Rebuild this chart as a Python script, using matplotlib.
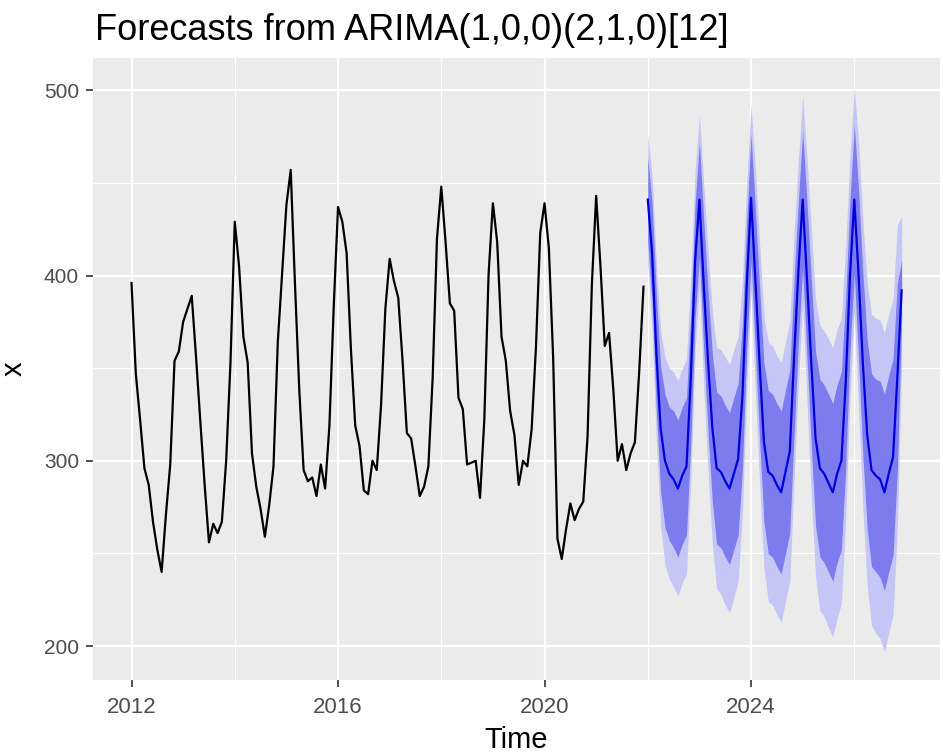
import numpy as np
import matplotlib.pyplot as plt

# monthly series 2012-01 .. 2021-12
hist = [
    396, 347, 322, 296, 287, 267, 252, 240, 271, 298, 354, 359,
    375, 382, 389, 356, 321, 287, 256, 266, 261, 267, 300, 353,
    429, 405, 367, 353, 304, 286, 274, 259, 276, 297, 364, 401,
    438, 457, 395, 338, 295, 289, 291, 281, 298, 285, 319, 383,
    437, 429, 412, 360, 319, 308, 284, 282, 300, 295, 330, 382,
    409, 397, 388, 354, 315, 312, 297, 281, 286, 297, 345, 420,
    448, 418, 385, 381, 334, 328, 298, 299, 300, 280, 322, 401,
    439, 418, 367, 354, 327, 314, 287, 300, 297, 317, 361, 423,
    439, 415, 356, 258, 247, 263, 277, 268, 274, 278, 313, 395,
    443, 405, 362, 369, 338, 300, 309, 295, 304, 310, 348, 394,
]

# point forecasts 2022-01 .. 2026-12
fc_mean = [
    441, 412, 358, 317, 300, 293, 290, 285, 292, 297, 345, 408,
    441, 395, 354, 318, 296, 294, 289, 285, 293, 301, 335, 395,
    442, 398, 352, 310, 294, 292, 287, 283, 294, 305, 356, 402,
    441, 398, 353, 312, 296, 293, 288, 283, 293, 300, 342, 400,
    441, 400, 352, 314, 295, 292, 290, 283, 293, 302, 345, 392,
]

# half widths of the 80% and 95% intervals
w80 = [
    23, 27, 31, 34, 36, 36, 37, 37, 37, 37, 35, 31,
    31, 35, 38, 40, 41, 41, 41, 41, 41, 41, 39, 35,
    34, 38, 41, 43, 44, 44, 44, 44, 44, 44, 42, 38,
    37, 42, 45, 47, 48, 48, 48, 48, 48, 48, 46, 41,
    40, 46, 49, 51, 52, 52, 53, 53, 53, 53, 51, 16,
]
w95 = [
    35, 42, 48, 53, 56, 57, 58, 58, 58, 58, 55, 48,
    46, 55, 60, 63, 65, 66, 67, 67, 67, 66, 63, 55,
    50, 60, 65, 68, 70, 70, 70, 70, 70, 70, 67, 60,
    56, 66, 72, 75, 77, 77, 78, 78, 78, 77, 74, 65,
    61, 72, 78, 82, 84, 85, 86, 86, 86, 85, 82, 40,
]

t_hist = 2012 + np.arange(len(hist)) / 12
t_fc = 2022 + np.arange(len(fc_mean)) / 12
mean = np.array(fc_mean, dtype=float)
w80 = np.array(w80, dtype=float)
w95 = np.array(w95, dtype=float)

plt.rcParams['font.family'] = ['Liberation Sans', 'DejaVu Sans']

fig = plt.figure(figsize=(9.43, 7.53), dpi=100)
ax = fig.add_axes([93 / 943, 73 / 753, 847 / 943, 622 / 753])
ax.set_facecolor('#EBEBEB')

# grid, ggplot style
for v in [2014, 2018, 2022, 2026]:
    ax.axvline(v, color='white', lw=0.8, zorder=0)
for v in [250, 350, 450]:
    ax.axhline(v, color='white', lw=0.8, zorder=0)
for v in [2012, 2016, 2020, 2024]:
    ax.axvline(v, color='white', lw=1.6, zorder=0)
for v in [200, 300, 400, 500]:
    ax.axhline(v, color='white', lw=1.6, zorder=0)

ax.fill_between(t_fc, mean - w95, mean + w95, color='#C6C6F6', lw=0, zorder=2)
ax.fill_between(t_fc, mean - w80, mean + w80, color='#7C7CEE', lw=0, zorder=3)
ax.plot(t_fc, mean, color='#0000DD', lw=1.6, zorder=4)
ax.plot(t_hist, hist, color='black', lw=1.6, zorder=4)

ax.set_xlim(2011.254, 2027.66)
ax.set_ylim(181.7, 517.4)
ax.set_xticks([2012, 2016, 2020, 2024])
ax.set_yticks([200, 300, 400, 500])
ax.tick_params(colors='#333333', labelcolor='#4D4D4D', length=5, width=1.2)
ax.tick_params(axis='x', labelsize=16, pad=7)
ax.tick_params(axis='y', labelsize=15, pad=5)
for s in ax.spines.values():
    s.set_visible(False)

ax.set_xlabel('Time', fontsize=21, labelpad=6)
ax.set_ylabel('x', fontsize=21, labelpad=12)
fig.text(95 / 943, 1 - 40 / 753, 'Forecasts from ARIMA(1,0,0)(2,1,0)[12]',
         fontsize=26, ha='left', va='baseline')

fig.savefig('out.png', dpi=100)
